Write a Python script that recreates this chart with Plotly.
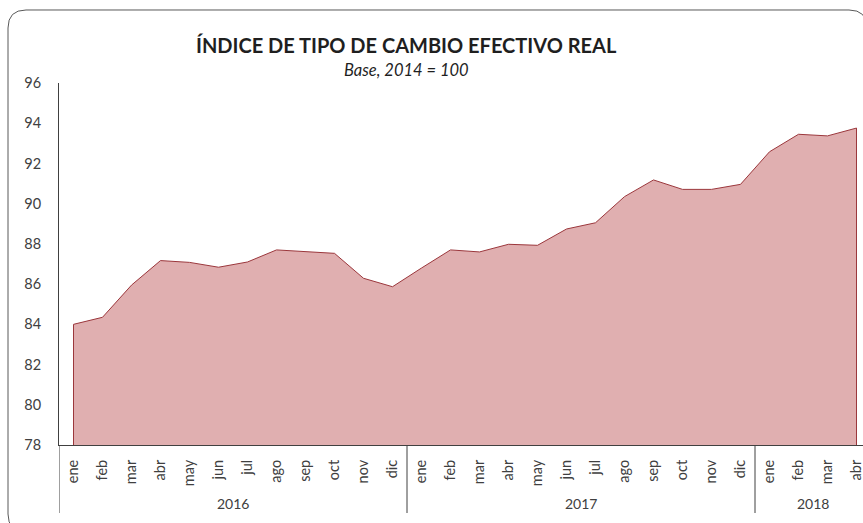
import plotly.graph_objects as go

# ---- data ----
years = ["2016", "2017", "2018"]
months_per_year = [12, 12, 4]
month_names = ["ene", "feb", "mar", "abr", "may", "jun",
               "jul", "ago", "sep", "oct", "nov", "dic"]
values_2016 = [84.0, 84.35, 85.95, 87.17, 87.08, 86.84,
               87.1, 87.7, 87.6, 87.53, 86.29, 85.87]
values_2017 = [86.8, 87.7, 87.6, 87.98, 87.93, 88.74,
               89.05, 90.35, 91.18, 90.71, 90.71, 90.96]
values_2018 = [92.58, 93.45, 93.37, 93.76]
y_min, y_max, y_step = 78, 96, 2

title_text = "ÍNDICE DE TIPO DE CAMBIO EFECTIVO REAL"
subtitle_text = "Base, 2014 = 100"

# ---- build ----
values = values_2016 + values_2017 + values_2018
month_labels = []
for n in months_per_year:
    month_labels += month_names[:n]
xs = list(range(len(values)))

W, H = 863, 523
ML, MR, MT, MB = 59, 0, 83, 78
PW = W - ML - MR
PH = H - MT - MB
band = 29.0
x_hi = -0.5 + PW / band

def px2x(px):
    return (px - ML) / PW

def py2y(py):
    return (H - MB - py) / PH

FILL = "rgb(224,175,176)"
LINE = "rgb(155,55,60)"
TXT = "#404040"
FONT = "Lato, 'Open Sans', sans-serif"

fig = go.Figure()
fig.add_trace(go.Scatter(
    x=[xs[0]] + xs + [xs[-1]],
    y=[y_min] + values + [y_min],
    mode="lines",
    fill="toself",
    fillcolor=FILL,
    line=dict(color=LINE, width=1),
    hoverinfo="skip",
    showlegend=False,
))

shapes = []
# year dividers
start = 0
bounds = [-0.5]
for n in months_per_year:
    start += n
    bounds.append(start - 0.5)
for b in bounds[:-1]:
    shapes.append(dict(type="line", xref="x", yref="paper",
                       x0=b, x1=b, y0=0, y1=py2y(513),
                       line=dict(color=TXT, width=1)))

# rounded frame
L, T, R, B, r = 8, 10, 867, 532, 18
def P(px, py):
    return f"{px2x(px):.5f},{py2y(py):.5f}"
path = (f"M {P(L + r, T)} L {P(R - r, T)} Q {P(R, T)} {P(R, T + r)} "
        f"L {P(R, B - r)} Q {P(R, B)} {P(R - r, B)} "
        f"L {P(L + r, B)} Q {P(L, B)} {P(L, B - r)} "
        f"L {P(L, T + r)} Q {P(L, T)} {P(L + r, T)} Z")
shapes.append(dict(type="path", xref="paper", yref="paper", path=path,
                   line=dict(color="#595959", width=1)))

annotations = []
start = 0
for yr, n in zip(years, months_per_year):
    center = start + (n - 1) / 2
    annotations.append(dict(x=center, y=py2y(503), xref="x", yref="paper",
                            xanchor="center", yanchor="middle",
                            text=yr, showarrow=False,
                            font=dict(family=FONT, size=14, color=TXT)))
    start += n
annotations.append(dict(x=px2x(406.5), y=py2y(45), xref="paper", yref="paper",
                        xanchor="center", yanchor="middle",
                        text=f"<b>{title_text}</b>", showarrow=False,
                        font=dict(family=FONT, size=20, color="#1f1f1f")))
annotations.append(dict(x=px2x(406.5), y=py2y(70), xref="paper", yref="paper",
                        xanchor="center", yanchor="middle",
                        text=f"<i>{subtitle_text}</i>", showarrow=False,
                        font=dict(family=FONT, size=16.5, color="#1f1f1f")))

fig.update_layout(
    width=W, height=H,
    margin=dict(l=ML, r=MR, t=MT, b=MB),
    paper_bgcolor="white", plot_bgcolor="white",
    shapes=shapes, annotations=annotations,
    xaxis=dict(range=[-0.5, x_hi], tickmode="array", tickvals=xs,
               ticktext=month_labels, tickangle=-90, showgrid=False,
               zeroline=False, showline=True, linecolor="#404040",
               linewidth=1, ticks="", ticklabelstandoff=8,
               ticklabeloverflow="allow",
               tickfont=dict(family=FONT, size=14.5, color=TXT)),
    yaxis=dict(range=[y_min, y_max], dtick=y_step, tick0=y_min,
               showgrid=False, zeroline=False, showline=True,
               linecolor="#404040", linewidth=1, ticks="",
               ticklabelstandoff=14,
               tickfont=dict(family=FONT, size=14.5, color=TXT)),
)

fig.write_html("out.html",
               config={"displayModeBar": False},
               post_script="document.body.style.margin='0px';")
